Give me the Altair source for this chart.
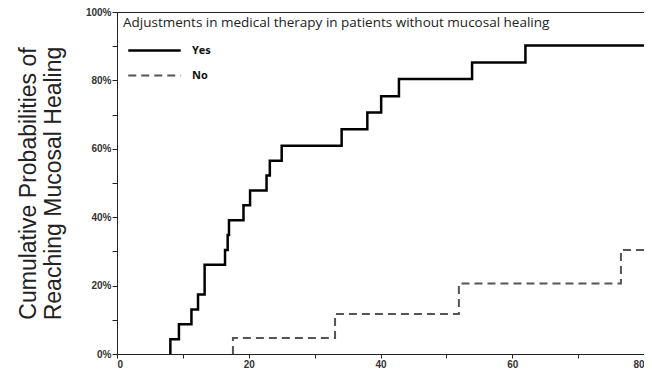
import altair as alt
import pandas as pd

yes_time = [8.1, 8.1, 9.4, 11.3, 12.3, 13.3, 16.4, 16.8, 17.0, 19.2, 20.2, 22.7, 23.2, 25.0, 34.1, 38.0, 40.1, 42.8, 53.9, 62.0, 80]
yes_prob = [0, 4.3, 8.7, 13.0, 17.4, 26.1, 30.4, 34.8, 39.1, 43.5, 47.8, 52.2, 56.5, 60.9, 65.7, 70.6, 75.4, 80.4, 85.2, 90.2, 90.2]
no_time = [17.6, 17.6, 33.1, 51.9, 76.5, 80]
no_prob = [0, 4.7, 11.7, 20.6, 30.4, 30.4]
groups = ["Yes", "No"]
title_text = "Adjustments in medical therapy in patients without mucosal healing"

rows = []
for i, (t, p) in enumerate(zip(yes_time, yes_prob)):
    rows.append({"time": t, "prob": p / 100, "group": "Yes", "idx": i})
for i, (t, p) in enumerate(zip(no_time, no_prob)):
    rows.append({"time": t, "prob": p / 100, "group": "No", "idx": i})
df = pd.DataFrame(rows)

leg = dict(title=None, orient="none", legendX=10, legendY=32,
           symbolType="M-1,0H9", symbolSize=110,
           symbolStrokeWidth=2.5, labelOffset=52,
           labelFont="Open Sans", labelFontWeight="bold",
           labelFontSize=11, labelColor="#111",
           rowPadding=13, padding=0)

lines = alt.Chart(df).mark_line(interpolate="step-after", clip=True).encode(
    x=alt.X("time:Q", scale=alt.Scale(domain=[0, 80], nice=False),
            axis=alt.Axis(values=list(range(0, 81, 10)), title=None,
                          labelExpr="datum.value % 20 == 0 ? datum.label : ''",
                          grid=False, tickSize=4, labelPadding=1)),
    y=alt.Y("prob:Q", scale=alt.Scale(domain=[0, 1], nice=False),
            axis=alt.Axis(values=[i / 10 for i in range(11)], format=".0%",
                          labelExpr="round(datum.value*100) % 20 == 0 ? datum.label : ''",
                          grid=False, tickSize=5, labelPadding=1,
                          title=["Cumulative Probabilities of", "Reaching Mucosal Healing"],
                          titleFont="Liberation Sans", titleFontSize=23, titleFontWeight="normal",
                          titleColor="#222", titleX=-77, titleLineHeight=25)),
    color=alt.Color("group:N", scale=alt.Scale(domain=groups, range=["#000000", "#555555"]),
                    legend=alt.Legend(**leg)),
    strokeDash=alt.StrokeDash("group:N", scale=alt.Scale(domain=groups, range=[[1, 0], [8, 5]]),
                              legend=alt.Legend(**leg)),
    strokeWidth=alt.StrokeWidth("group:N", scale=alt.Scale(domain=groups, range=[2.5, 2]), legend=None),
    order="idx:Q",
)

title_df = pd.DataFrame({"label": [title_text]})
title = alt.Chart(title_df).mark_text(align="left", baseline="middle", font="Open Sans",
                                      fontSize=13.5, color="#222").encode(
    text="label:N", x=alt.value(6), y=alt.value(11))

chart = alt.layer(lines, title).properties(
    width=527, height=342,
    autosize=alt.AutoSizeParams(type="none"),
    padding={"left": 109, "top": 4, "right": 0, "bottom": 15},
).configure_view(stroke="#222", strokeWidth=1).configure_axis(
    domainColor="#222", tickColor="#222", labelFont="Liberation Sans", labelFontSize=10,
    labelFontWeight="bold", labelColor="#333"
)

chart.save("out.html", embed_options={"renderer": "svg", "actions": False})
